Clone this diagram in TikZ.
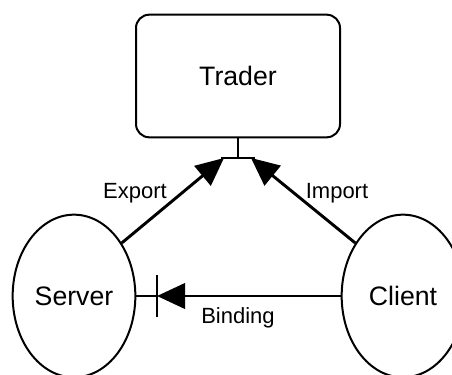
\documentclass[tikz,border=0pt]{standalone}
\usepackage{fontspec}
\setmainfont{Liberation Sans}
\usetikzlibrary{arrows.meta,shapes.geometric}
\begin{document}
\begin{tikzpicture}[
x=0.75pt, y=-0.75pt,
box/.style={rectangle, rounded corners=10pt, draw=black, line width=1.5pt, minimum width=153pt, minimum height=92pt, inner sep=0pt, font=\fontsize{20}{24}\selectfont},
role/.style={ellipse, draw=black, line width=1.5pt, minimum width=92pt, minimum height=122pt, inner sep=0pt, font=\fontsize{20}{24}\selectfont},
link/.style={line width=2.2pt},
head/.style={-{Triangle[length=21pt, width=19pt]}},
tag/.style={anchor=base, inner sep=0pt, font=\fontsize{16.5}{20}\selectfont},
]
\useasboundingbox (0,0) rectangle (452,374);
\node (trader) [box] at (238,76) {Trader};
\node (server) [role] at (74,296) {Server};
\node (client) [role] at (403,296) {Client};
\coordinate (junction) at (238,158);
\coordinate (exptip) at (224,158);
\coordinate (imptip) at (251,158);
\coordinate (bindtip) at (157,296);
\draw[line width=1.5pt] (trader.south) -- (junction);
\draw[link] ([xshift=-13pt]junction) -- ([xshift=13pt]junction);
\draw[link, head] (server.48) -- (exptip);
\draw[link, head] (client.132) -- (imptip);
\draw[link, head] (client.west) -- (bindtip);
\draw[link] (bindtip) -- (server.east);
\draw[line width=1.5pt] ([yshift=-16pt]bindtip) -- ([yshift=16pt]bindtip);
\node (export) [tag] at (135,198) {Export};
\node (import) [tag] at (337,198) {Import};
\node (binding) [tag] at (238,323) {Binding};
\end{tikzpicture}
\end{document}
